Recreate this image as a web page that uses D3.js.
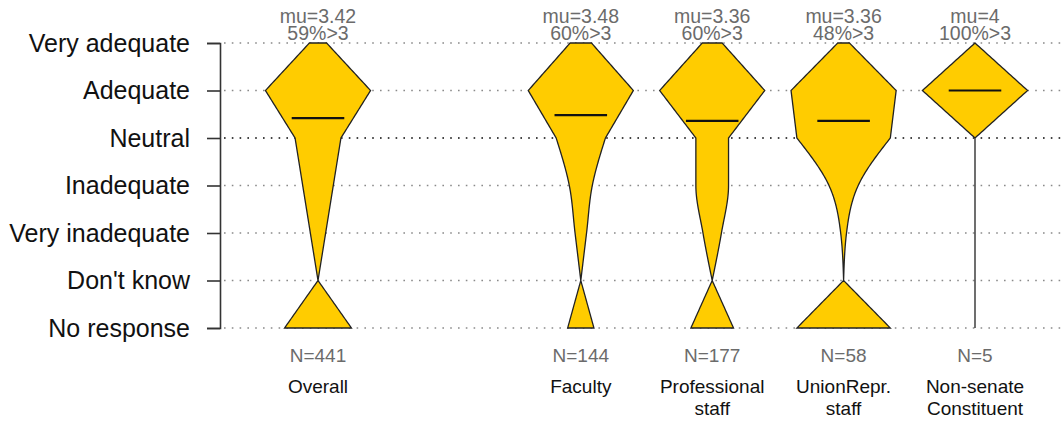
<!DOCTYPE html>
<html>
<head>
<meta charset="utf-8">
<script src="https://cdn.jsdelivr.net/npm/d3@7"></script>
<style>
  html, body { margin: 0; padding: 0; background: #fff; }
  svg { display: block; font-family: "Liberation Sans", Arial, sans-serif; }
</style>
</head>
<body>
<svg id="chart" width="1062" height="423"></svg>
<script>
// ---- data ----
const levels = ["Very adequate", "Adequate", "Neutral", "Inadequate", "Very inadequate", "Don't know", "No response"];
const groupNames = [["Overall"], ["Faculty"], ["Professional", "staff"], ["UnionRepr.", "staff"], ["Non-senate", "Constituent"]];
const groupSlots = [1, 3, 4, 5, 6];
const countsOverall = [27, 165, 72, 48, 24, 0, 105];
const countsFaculty = [13, 64, 30, 14, 7, 0, 16];
const countsProfessional = [14, 74, 23, 23, 13, 0, 30];
const countsUnion = [2, 18, 16, 5, 1, 0, 16];
const countsNonSenate = [0, 5, 0, 0, 0, 0, 0];
const groupMeans = [3.42, 3.48, 3.36, 3.36, 4];
const muLabels = ["mu=3.42", "mu=3.48", "mu=3.36", "mu=3.36", "mu=4"];
const pctLabels = ["59%>3", "60%>3", "60%>3", "48%>3", "100%>3"];
const allCounts = [countsOverall, countsFaculty, countsProfessional, countsUnion, countsNonSenate];

// ---- layout ----
const svg = d3.select("#chart");
const y = d3.scalePoint().domain(levels).range([43, 328]);
const yIdx = d3.scaleLinear().domain([0, levels.length - 1]).range([43, 328]);
const yRating = d3.scaleLinear().domain([5, 1]).range([y("Very adequate"), y("Very inadequate")]);
const x = d3.scaleLinear().domain([1, 6]).range([318, 975]);
const step = x(2) - x(1);
const axisX = 220;

// grid lines
svg.append("g").selectAll("line").data(levels).join("line")
  .attr("x1", 224).attr("x2", 1062)
  .attr("y1", d => y(d)).attr("y2", d => y(d))
  .attr("stroke", d => d === "Neutral" ? "#444" : "#8a8a8a")
  .attr("stroke-width", d => d === "Neutral" ? 2 : 1.4)
  .attr("stroke-dasharray", "1.6,6.2");

// axis
const axis = d3.axisLeft(y).tickSize(13).tickSizeOuter(13).tickPadding(17);
const gAxis = svg.append("g").attr("transform", `translate(${axisX},0)`).call(axis);
gAxis.select(".domain").attr("stroke", "#333").attr("stroke-width", 1.6);
gAxis.selectAll(".tick line").attr("stroke", "#333").attr("stroke-width", 1.6);
gAxis.selectAll(".tick text").attr("font-size", 25).attr("fill", "#111")
  .attr("font-family", "Liberation Sans, Arial, sans-serif");

// width interpolation: linear top, monotone cubic from Neutral to Don't know, linear bottom
function monoSlopes(v) {
  const n = v.length, s = [], m = new Array(n);
  for (let i = 0; i < n - 1; i++) s.push(v[i + 1] - v[i]);
  for (let i = 1; i < n - 1; i++) {
    const s0 = s[i - 1], s1 = s[i], p = (s0 + s1) / 2;
    m[i] = (Math.sign(s0) + Math.sign(s1)) * Math.min(Math.abs(s0), Math.abs(s1), 0.5 * Math.abs(p)) || 0;
  }
  m[0] = n > 2 ? (3 * s[0] - m[1]) / 2 : s[0];
  m[n - 1] = n > 2 ? (3 * s[n - 2] - m[n - 2]) / 2 : s[n - 2];
  return m;
}
function widthAt(w, t) {
  if (t <= 2) { const i = Math.min(Math.floor(t), 1); const f = t - i; return w[i] + (w[i + 1] - w[i]) * f; }
  if (t >= 5) { return w[5] + (w[6] - w[5]) * (t - 5); }
  const seg = w.slice(2, 6), m = monoSlopes(seg);
  const u = t - 2, i = Math.min(Math.floor(u), 2), f = u - i;
  const h00 = 2 * f ** 3 - 3 * f ** 2 + 1, h10 = f ** 3 - 2 * f ** 2 + f, h01 = -2 * f ** 3 + 3 * f ** 2, h11 = f ** 3 - f ** 2;
  return Math.max(0, h00 * seg[i] + h10 * m[i] + h01 * seg[i + 1] + h11 * m[i + 1]);
}

const ts = d3.range(0, 6.0001, 0.04).map(t => Math.round(t * 100) / 100);
[0, 1, 2, 3, 4, 5, 6].forEach(k => { if (!ts.includes(k)) ts.push(k); });
ts.sort((a, b) => a - b);

allCounts.forEach((counts, gi) => {
  const cx = x(groupSlots[gi]);
  const wScale = d3.scaleLinear().domain([0, d3.max(counts)]).range([0, 0.4 * step]);
  const w = counts.map(c => wScale(c));
  const pts = ts.map(t => ({ t, w: widthAt(w, t) }));
  const area = d3.area()
    .x0(d => cx - d.w).x1(d => cx + d.w).y(d => yIdx(d.t));
  svg.append("path").attr("d", area(pts))
    .attr("fill", "#FFCC00").attr("stroke", "#222").attr("stroke-width", 1.3)
    .attr("stroke-linejoin", "miter");
  // mean line
  const my = yRating(groupMeans[gi]);
  svg.append("line").attr("x1", cx - 0.2 * step).attr("x2", cx + 0.2 * step)
    .attr("y1", my).attr("y2", my).attr("stroke", "#111").attr("stroke-width", 2.2);
  // top labels
  svg.append("text").attr("x", cx).attr("y", 23).attr("text-anchor", "middle")
    .attr("font-size", 19.5).attr("fill", "#6b6b6b").text(muLabels[gi]);
  svg.append("text").attr("x", cx).attr("y", 40).attr("text-anchor", "middle")
    .attr("font-size", 19.5).attr("fill", "#6b6b6b").text(pctLabels[gi]);
  // bottom labels
  svg.append("text").attr("x", cx).attr("y", 362).attr("text-anchor", "middle")
    .attr("font-size", 19).attr("fill", "#6b6b6b").text("N=" + d3.sum(counts));
  groupNames[gi].forEach((line, li) => {
    svg.append("text").attr("x", cx).attr("y", 393 + li * 22).attr("text-anchor", "middle")
      .attr("font-size", 19).attr("fill", "#111").text(line);
  });
});
</script>
</body>
</html>
